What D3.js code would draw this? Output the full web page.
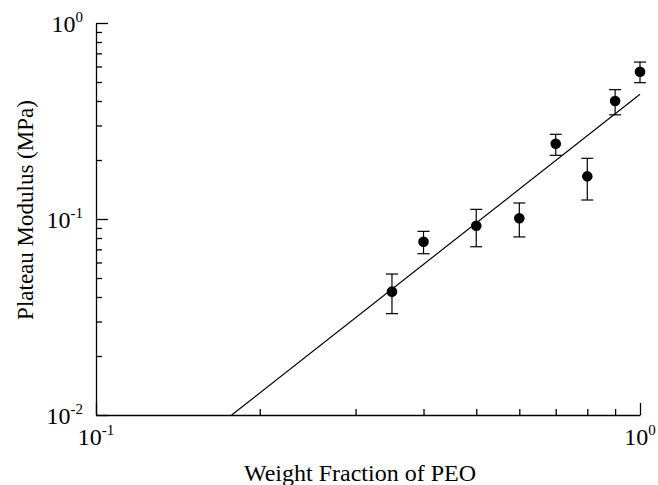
<!DOCTYPE html>
<html>
<head>
<meta charset="utf-8">
<script src="https://cdn.jsdelivr.net/npm/d3@7"></script>
<style>
  body { margin: 0; background: #fff; }
  svg { display: block; font-family: "Liberation Serif", "Times New Roman", serif; }
</style>
</head>
<body>
<svg width="658" height="485"></svg>
<script>
// measured data: weight fraction of PEO vs plateau modulus (MPa)
var fraction = [0.35, 0.4, 0.5, 0.6, 0.7, 0.8, 0.9, 1.0]
var modulus  = [0.0426, 0.0766, 0.0924, 0.1008, 0.242, 0.165, 0.400, 0.564]
var errHigh  = [0.0524, 0.0865, 0.112, 0.1207, 0.2705, 0.204, 0.457, 0.632]
var errLow   = [0.0329, 0.0665, 0.0722, 0.081, 0.2113, 0.125, 0.340, 0.496]

// power-law fit line end points
var fitX = [0.1776, 1.0]
var fitY = [0.01, 0.4326]

var xTicks = [0.1, 1]
var xTickExp = ['-1', '0']
var yTicks = [0.01, 0.1, 1]
var yTickExp = ['-2', '-1', '0']

var svg = d3.select('svg')
var mLeft = 96, mRight = 640, mTop = 23, mBottom = 415

var x = d3.scaleLog().domain([0.1, 1]).range([mLeft, mRight])
var y = d3.scaleLog().domain([0.01, 1]).range([mBottom, mTop])

// minor ticks 2..9 in each decade
function minors(lo, hi) {
    var out = []
    for (var p = lo; p < hi * 0.99; p *= 10) {
        for (var k = 2; k <= 9; k++) out.push(+(k * p).toPrecision(3))
    }
    return out
}

// x axis (ticks pointing inward / up)
var gx = svg.append('g').attr('transform', 'translate(0,' + mBottom + ')')
gx.call(d3.axisBottom(x).tickValues(xTicks).tickSizeInner(-12).tickSizeOuter(0).tickFormat(''))
gx.append('g').call(d3.axisBottom(x).tickValues(minors(0.1, 1)).tickSizeInner(-6).tickSizeOuter(0).tickFormat(''))
    .select('.domain').remove()

// y axis (ticks pointing inward / right)
var gy = svg.append('g').attr('transform', 'translate(' + mLeft + ',0)')
gy.call(d3.axisLeft(y).tickValues(yTicks).tickSizeInner(-12).tickSizeOuter(0).tickFormat(''))
gy.append('g').call(d3.axisLeft(y).tickValues(minors(0.01, 1)).tickSizeInner(-6).tickSizeOuter(0).tickFormat(''))
    .select('.domain').remove()

svg.selectAll('.domain, .tick line').attr('stroke', '#000').attr('stroke-width', 1.3)

// tick labels as 10 with superscript exponent
function powerLabel(sel) {
    sel.append('tspan').text('10')
    sel.append('tspan').attr('dy', -10).attr('font-size', 15).text(function(d) { return d.exp })
}

svg.selectAll('.ylab')
    .data(yTicks.map(function(v, i) { return {v: v, exp: yTickExp[i]} }))
    .enter().append('text')
    .attr('class', 'ylab')
    .attr('x', 83).attr('y', function(d) { return y(d.v) + 9 })
    .attr('text-anchor', 'end').attr('font-size', 24)
    .call(powerLabel)

svg.selectAll('.xlab')
    .data(xTicks.map(function(v, i) { return {v: v, exp: xTickExp[i]} }))
    .enter().append('text')
    .attr('class', 'xlab')
    .attr('x', function(d) { return x(d.v) }).attr('y', 445)
    .attr('text-anchor', 'middle').attr('font-size', 24)
    .call(powerLabel)

// axis titles
svg.append('text')
    .attr('x', (mLeft + mRight) / 2 - 8).attr('y', 481)
    .attr('text-anchor', 'middle').attr('font-size', 24)
    .text('Weight Fraction of PEO')

svg.append('text')
    .attr('transform', 'translate(33,210) rotate(-90)')
    .attr('text-anchor', 'middle').attr('font-size', 23)
    .text('Plateau Modulus (MPa)')

// fit line
var line = d3.line().x(function(d) { return x(d[0]) }).y(function(d) { return y(d[1]) })
svg.append('path')
    .datum(d3.zip(fitX, fitY))
    .attr('d', line)
    .attr('fill', 'none').attr('stroke', '#000').attr('stroke-width', 1.2)

// error bars
var pts = fraction.map(function(f, i) {
    return {x: f, y: modulus[i], hi: errHigh[i], lo: errLow[i]}
})
var eb = svg.selectAll('.eb').data(pts).enter().append('g').attr('class', 'eb')
    .attr('stroke', '#000').attr('stroke-width', 1.2)
eb.append('line')
    .attr('x1', function(d) { return x(d.x) }).attr('x2', function(d) { return x(d.x) })
    .attr('y1', function(d) { return y(d.hi) }).attr('y2', function(d) { return y(d.lo) })
eb.append('line')
    .attr('x1', function(d) { return x(d.x) - 6 }).attr('x2', function(d) { return x(d.x) + 6 })
    .attr('y1', function(d) { return y(d.hi) }).attr('y2', function(d) { return y(d.hi) })
eb.append('line')
    .attr('x1', function(d) { return x(d.x) - 6 }).attr('x2', function(d) { return x(d.x) + 6 })
    .attr('y1', function(d) { return y(d.lo) }).attr('y2', function(d) { return y(d.lo) })

svg.selectAll('.dot').data(pts).enter().append('circle')
    .attr('class', 'dot')
    .attr('cx', function(d) { return x(d.x) })
    .attr('cy', function(d) { return y(d.y) })
    .attr('r', 5.3)
    .attr('fill', '#000')
</script>
</body>
</html>
